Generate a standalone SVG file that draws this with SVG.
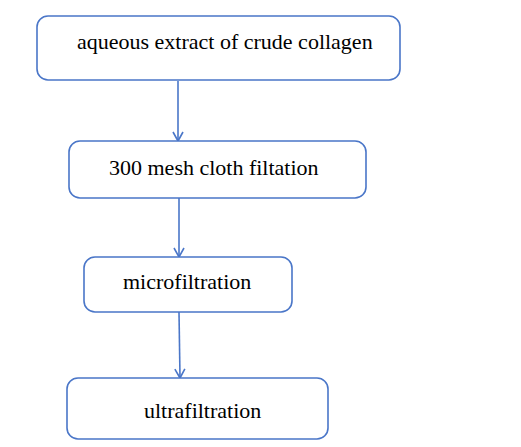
<svg xmlns="http://www.w3.org/2000/svg" width="521" height="447" viewBox="0 0 521 447">
<defs>
<style>
.box{fill:#fff;stroke:#4a76c8;stroke-width:1.6}
.lbl{font-family:"Liberation Serif","Times New Roman",serif;font-size:22px;fill:#000}
.con{stroke:#4a76c8;stroke-width:1.6;fill:none}
</style>
<marker id="arr" markerWidth="12" markerHeight="12" refX="10" refY="6" orient="auto" markerUnits="userSpaceOnUse">
<path d="M1,1 L10,6 L1,11" fill="none" stroke="#4a76c8" stroke-width="1.6"/>
</marker>
</defs>
<rect width="521" height="447" fill="#fff"/>
<g id="connectors">
<line class="con" x1="178" y1="81" x2="178" y2="141" marker-end="url(#arr)"/>
<line class="con" x1="179" y1="198" x2="179" y2="257" marker-end="url(#arr)"/>
<line class="con" x1="179" y1="312" x2="180" y2="378" marker-end="url(#arr)"/>
</g>
<g id="n1">
<rect class="box" x="37" y="16" width="363" height="64" rx="11"/>
<text class="lbl" x="77" y="49">aqueous extract of crude collagen</text>
</g>
<g id="n2">
<rect class="box" x="69" y="141" width="297" height="57" rx="11"/>
<text class="lbl" x="109" y="175">300 mesh cloth filtation</text>
</g>
<g id="n3">
<rect class="box" x="84" y="257" width="208" height="55" rx="11"/>
<text class="lbl" x="123" y="289">microfiltration</text>
</g>
<g id="n4">
<rect class="box" x="67" y="378" width="261" height="61" rx="11"/>
<text class="lbl" x="144" y="418">ultrafiltration</text>
</g>
</svg>
